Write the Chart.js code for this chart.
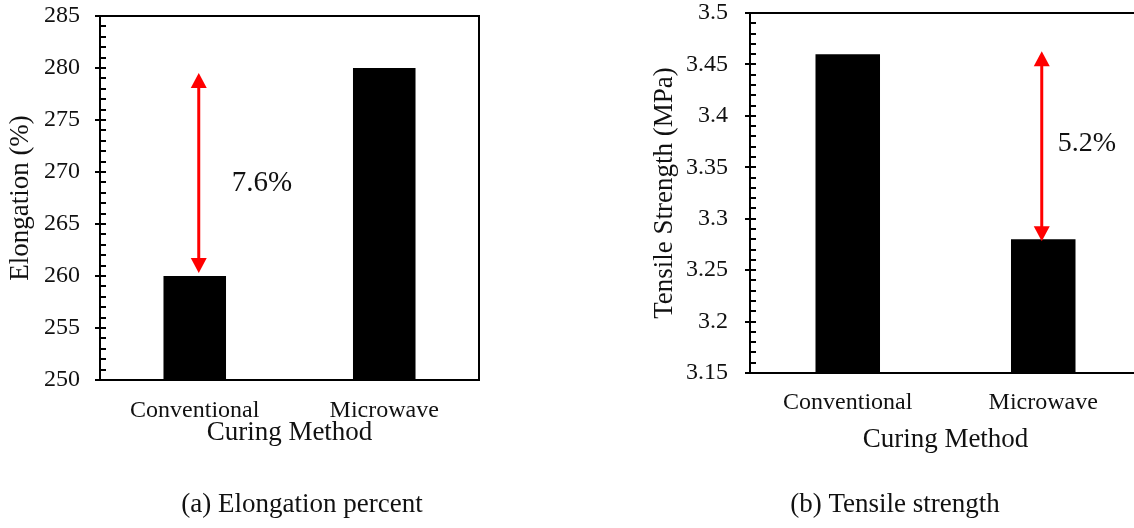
<!DOCTYPE html>
<html>
<head>
<meta charset="utf-8">
<script src="https://cdn.jsdelivr.net/npm/chart.js"></script>
<style>
    body { margin: 0; background: #fff; overflow: hidden; width: 1134px; height: 528px; }
    canvas { position: absolute; top: 0; }
</style>
</head>
<body>
<canvas id="chartElong" width="604" height="528" style="left:0px"></canvas>
<canvas id="chartTensile" width="630" height="528" style="left:580px"></canvas>
<script>
let categories = ["Conventional", "Microwave"];

let elongation = [260, 280];
let elongTicks = [250, 255, 260, 265, 270, 275, 280, 285];
let elongDiff = "7.6%";

let tensile = [3.46, 3.28];
let tensileTicks = [3.15, 3.2, 3.25, 3.3, 3.35, 3.4, 3.45, 3.5];
let tensileDiff = "5.2%";

const SERIF = "'Liberation Serif', 'Times New Roman', serif";
const TEXT = "#111";

// box round the plot + minor ticks inside, major ticks crossing the axis
let framePlugin = {
    id: "frame",
    afterDatasetsDraw(chart, args, opts) {
        let ctx = chart.ctx;
        let a = chart.chartArea;
        let y = chart.scales.y;
        ctx.save();
        ctx.strokeStyle = "#000";
        ctx.lineWidth = 2;
        ctx.strokeRect(a.left, a.top, a.right - a.left, a.bottom - a.top);
        let n = Math.round((y.max - y.min) / opts.minor);
        for(let i = 0; i <= n; i++)
        {
            let py = Math.round(y.getPixelForValue(y.min + i * opts.minor));
            let major = (i % opts.every) == 0;
            ctx.beginPath();
            ctx.moveTo(a.left - (major ? 5 : 0), py);
            ctx.lineTo(a.left + 6, py);
            ctx.stroke();
        }
        ctx.restore();
    }
};

// red double arrow between the two bar heights, with the % label
let arrowPlugin = {
    id: "diffArrow",
    afterDatasetsDraw(chart, args, opts) {
        let ctx = chart.ctx;
        let y = chart.scales.y;
        let values = chart.data.datasets[0].data;
        let bar = chart.getDatasetMeta(0).data[opts.index];
        let x = bar.x + opts.dx;
        let yLow = y.getPixelForValue(values[opts.index]) + opts.lowPad;
        let yHigh = y.getPixelForValue(values[1 - opts.index]) + opts.highPad;
        let top = Math.min(yLow, yHigh), bottom = Math.max(yLow, yHigh);
        let head = 15, half = 8;
        ctx.save();
        ctx.strokeStyle = "#ff0000";
        ctx.fillStyle = "#ff0000";
        ctx.lineWidth = 3;
        ctx.beginPath();
        ctx.moveTo(x, top + head - 2);
        ctx.lineTo(x, bottom - head + 2);
        ctx.stroke();
        ctx.beginPath();
        ctx.moveTo(x, top);
        ctx.lineTo(x - half, top + head);
        ctx.lineTo(x + half, top + head);
        ctx.closePath();
        ctx.fill();
        ctx.beginPath();
        ctx.moveTo(x, bottom);
        ctx.lineTo(x - half, bottom - head);
        ctx.lineTo(x + half, bottom - head);
        ctx.closePath();
        ctx.fill();
        ctx.fillStyle = TEXT;
        ctx.font = opts.size + "px " + SERIF;
        ctx.textAlign = "left";
        ctx.textBaseline = "middle";
        ctx.fillText(opts.text, x + opts.textDx, (top + bottom) / 2 + opts.textDy);
        ctx.restore();
    }
};

// "(a) ..." / "(b) ..." line under each chart
let captionPlugin = {
    id: "caption",
    afterDraw(chart, args, opts) {
        let ctx = chart.ctx;
        ctx.save();
        ctx.fillStyle = TEXT;
        ctx.font = "27px " + SERIF;
        ctx.textAlign = "center";
        ctx.textBaseline = "middle";
        ctx.fillText(opts.text, opts.x, opts.y);
        ctx.restore();
    }
};

function makeChart(id, values, ticks, setup)
{
    let ctx = document.getElementById(id).getContext("2d");
    return new Chart(ctx, {
        type: "bar",
        data: {
            labels: categories,
            datasets: [{
                data: values,
                backgroundColor: "#000",
                borderWidth: 0,
                categoryPercentage: 1,
                barPercentage: 0.33
            }]
        },
        options: {
            responsive: false,
            animation: false,
            devicePixelRatio: 1,
            layout: { padding: setup.padding },
            scales: {
                x: {
                    grid: { display: false, drawTicks: false },
                    border: { display: false },
                    ticks: { color: TEXT, padding: setup.xTickPad, font: { family: SERIF, size: 24 } },
                    title: {
                        display: true,
                        text: "Curing Method",
                        color: TEXT,
                        padding: { top: 0, bottom: 0 },
                        font: { family: SERIF, size: 27 }
                    },
                    afterFit: function(scale){ scale.height = setup.xHeight; }
                },
                y: {
                    min: ticks[0],
                    max: ticks[ticks.length - 1],
                    // invisible tick marks only hold the labels off the axis
                    grid: { drawOnChartArea: false, drawTicks: true, tickLength: setup.yTickGap, color: "rgba(0,0,0,0)" },
                    border: { display: false },
                    ticks: {
                        color: TEXT,
                        padding: 0,
                        autoSkip: false,
                        font: { family: SERIF, size: 24, lineHeight: 1 },
                        callback: function(v){ return String(v); }
                    },
                    afterBuildTicks: function(scale){
                        scale.ticks = ticks.map(v => ({ value: v }));
                    },
                    title: {
                        display: true,
                        text: setup.yTitle,
                        color: TEXT,
                        padding: { top: setup.yTitlePad, bottom: 0 },
                        font: { family: SERIF, size: 27 }
                    },
                    afterFit: function(scale){ scale.width = setup.yWidth; }
                }
            },
            plugins: {
                legend: { display: false },
                tooltip: { enabled: false },
                caption: setup.caption,
                frame: { minor: setup.minor, every: 5 },
                diffArrow: setup.arrow
            }
        },
        plugins: [framePlugin, arrowPlugin, captionPlugin]
    });
}

makeChart("chartElong", elongation, elongTicks, {
    padding: { left: 0, right: 125, top: 16, bottom: 78.4 },
    yWidth: 100,
    xHeight: 69.6,
    xTickPad: 16,
    yTickGap: 20,
    yTitle: "Elongation (%)",
    yTitlePad: 4.8,
    caption: { text: "(a) Elongation percent", x: 302, y: 505 },
    minor: 1,
    arrow: { index: 0, dx: 4, lowPad: -3, highPad: 5, text: elongDiff, size: 29, textDx: 33, textDy: 10 }
});

makeChart("chartTensile", tensile, tensileTicks, {
    padding: { left: 0, right: 69, top: 13, bottom: 71.4 },
    yWidth: 170,
    xHeight: 83.6,
    xTickPad: 15,
    yTickGap: 22,
    yTitle: "Tensile Strength (MPa)",
    yTitlePad: 68.8,
    caption: { text: "(b) Tensile strength", x: 315, y: 505 },
    minor: 0.01,
    arrow: { index: 1, dx: -1.5, lowPad: 2, highPad: -3, text: tensileDiff, size: 28, textDx: 16, textDy: -3 }
});
</script>
</body>
</html>
